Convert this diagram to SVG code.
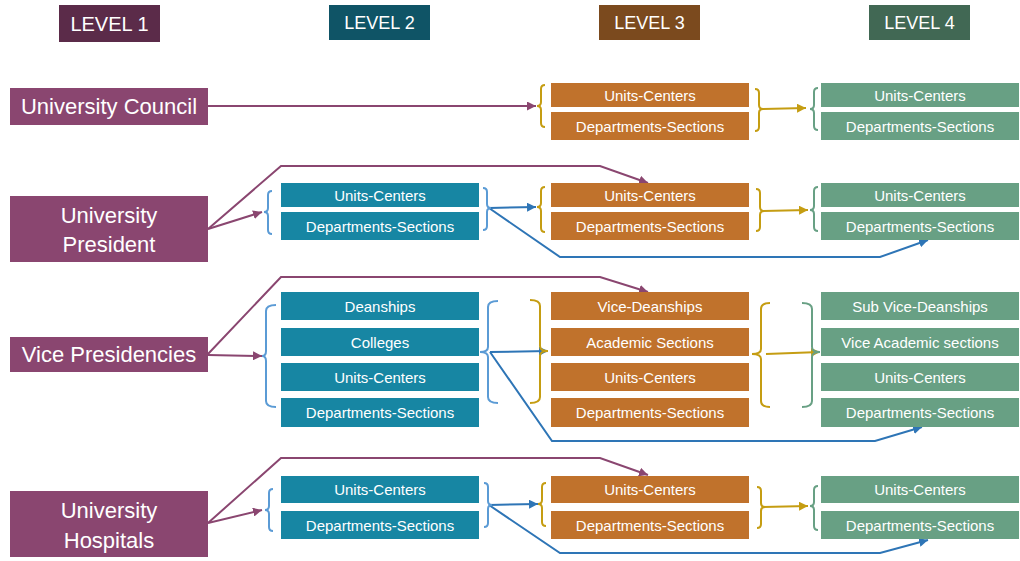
<svg xmlns="http://www.w3.org/2000/svg" width="1020" height="561" viewBox="0 0 1020 561">
<defs>
<style>
.t{font-family:"Liberation Sans",Arial,sans-serif;fill:#fff;text-anchor:middle;dominant-baseline:central}
.s{font-size:15px}
.b{font-size:22px}
.h{font-size:20px}
.n1{fill:#8A4670}
.n2{fill:#1786A3}
.n3{fill:#C0722C}
.n4{fill:#68A084}
.ln{fill:none;stroke-width:2}
.pu{stroke:#8A4670}
.bl{stroke:#2E75B6}
.lb{stroke:#5B9BD5}
.go{stroke:#C59D12}
.gr{stroke:#68A084}
</style>
<marker id="ap" viewBox="0 0 10 10" refX="10" refY="5" markerWidth="4.5" markerHeight="4.5" orient="auto"><path d="M0,0L10,5L0,10z" fill="#8A4670"/></marker>
<marker id="ab" viewBox="0 0 10 10" refX="10" refY="5" markerWidth="4.5" markerHeight="4.5" orient="auto"><path d="M0,0L10,5L0,10z" fill="#2E75B6"/></marker>
<marker id="ag" viewBox="0 0 10 10" refX="10" refY="5" markerWidth="4.5" markerHeight="4.5" orient="auto"><path d="M0,0L10,5L0,10z" fill="#C59D12"/></marker>
</defs>
<rect width="1020" height="561" fill="#fff"/>

<g id="headers">
<rect x="59" y="5" width="101" height="37" fill="#5B2B49"/><text class="t h" x="109.5" y="24">LEVEL 1</text>
<rect x="329" y="5" width="101" height="35" fill="#0F5466"/><text class="t h" x="379.5" y="23" style="font-size:18px">LEVEL 2</text>
<rect x="599" y="5" width="101" height="35" fill="#7B4A1E"/><text class="t h" x="649.5" y="23" style="font-size:18px">LEVEL 3</text>
<rect x="869" y="5" width="101" height="35" fill="#416854"/><text class="t h" x="919.5" y="23" style="font-size:18px">LEVEL 4</text>
</g>

<g id="connectors">
<path class="ln pu" d="M208,106 L536,106" marker-end="url(#ap)"/>
<path class="ln go" d="M763,109 L806,108" marker-end="url(#ag)"/>
<path class="ln pu" d="M208,229 L262,212" marker-end="url(#ap)"/>
<path class="ln pu" d="M208,229 L281,166 L600,166 L648,183" marker-end="url(#ap)"/>
<path class="ln bl" d="M489,208 L536,207" marker-end="url(#ab)"/>
<path class="ln bl" d="M489,208 L560,257 L880,257 L928,240" marker-end="url(#ab)"/>
<path class="ln go" d="M763,211 L808,210" marker-end="url(#ag)"/>
<path class="ln pu" d="M208,355 L262,356" marker-end="url(#ap)"/>
<path class="ln pu" d="M208,354 L281,277 L600,277 L648,292" marker-end="url(#ap)"/>
<path class="ln bl" d="M490,352 L548,351" marker-end="url(#ab)"/>
<path class="ln bl" d="M490,352 L552,441 L875,441 L922,427" marker-end="url(#ab)"/>
<path class="ln go" d="M766,354 L820,352" marker-end="url(#ag)"/>
<path class="ln pu" d="M208,523 L262,510" marker-end="url(#ap)"/>
<path class="ln pu" d="M208,523 L281,458 L600,458 L648,475" marker-end="url(#ap)"/>
<path class="ln bl" d="M489,505 L538,504" marker-end="url(#ab)"/>
<path class="ln bl" d="M489,505 L560,553 L880,553 L928,540" marker-end="url(#ab)"/>
<path class="ln go" d="M763,507 L808,506" marker-end="url(#ag)"/>
</g>

<g id="braces">
<path class="ln go" d="M545,85 Q541,85 541,89 L541,102 Q541,106 537,106 Q541,106 541,110 L541,123 Q541,127 545,127"/>
<path class="ln go" d="M755,89 Q759,89 759,93 L759,105 Q759,109 763,109 Q759,109 759,113 L759,127 Q759,131 755,131"/>
<path class="ln gr" d="M818,88 Q814,88 814,92 L814,105 Q814,109 810,109 Q814,109 814,113 L814,126 Q814,130 818,130"/>
<path class="ln lb" d="M272,191 Q268,191 268,195 L268,208 Q268,212 264,212 Q268,212 268,216 L268,230 Q268,234 272,234"/>
<path class="ln lb" d="M483,188 Q487,188 487,192 L487,204 Q487,208 491,208 Q487,208 487,212 L487,226 Q487,230 483,230"/>
<path class="ln go" d="M545,187 Q541,187 541,191 L541,203 Q541,207 537,207 Q541,207 541,211 L541,228 Q541,232 545,232"/>
<path class="ln go" d="M756,189 Q760,189 760,193 L760,207 Q760,211 764,211 Q760,211 760,215 L760,227 Q760,231 756,231"/>
<path class="ln gr" d="M818,187 Q814,187 814,191 L814,206 Q814,210 810,210 Q814,210 814,214 L814,227 Q814,231 818,231"/>
<path class="ln lb" d="M276,305 Q266,305 266,311 L266,351 Q266,356 262,356 Q266,356 266,361 L266,401 Q266,407 276,407"/>
<path class="ln lb" d="M498,301 Q488,301 488,307 L488,347 Q488,352 480,352 Q488,352 488,357 L488,397 Q488,403 498,403"/>
<path class="ln go" d="M530,300 Q540,300 540,306 L540,346 Q540,351 548,351 Q540,351 540,356 L540,397 Q540,403 530,403"/>
<path class="ln go" d="M770,303 Q761,303 761,309 L761,349 Q761,354 752,354 Q761,354 761,359 L761,401 Q761,407 770,407"/>
<path class="ln gr" d="M802,303 Q812,303 812,309 L812,347 Q812,352 820,352 Q812,352 812,357 L812,401 Q812,407 802,407"/>
<path class="ln lb" d="M273,489 Q269,489 269,493 L269,506 Q269,510 265,510 Q269,510 269,514 L269,527 Q269,531 273,531"/>
<path class="ln lb" d="M484,483 Q488,483 488,487 L488,501 Q488,505 492,505 Q488,505 488,509 L488,523 Q488,527 484,527"/>
<path class="ln go" d="M546,483 Q542,483 542,487 L542,500 Q542,504 538,504 Q542,504 542,508 L542,522 Q542,526 546,526"/>
<path class="ln go" d="M757,487 Q761,487 761,491 L761,503 Q761,507 765,507 Q761,507 761,511 L761,524 Q761,528 757,528"/>
<path class="ln gr" d="M818,486 Q814,486 814,490 L814,502 Q814,506 810,506 Q814,506 814,510 L814,526 Q814,530 818,530"/>
</g>

<g id="university-council"><rect class="n1" x="10" y="88" width="198" height="37"/><text class="t b" x="109" y="106.5">University Council</text></g>
<g id="university-president"><rect class="n1" x="10" y="196" width="198" height="66"/><text class="t b" x="109" y="215">University</text><text class="t b" x="109" y="244">President</text></g>
<g id="vice-presidencies"><rect class="n1" x="10" y="337" width="198" height="35"/><text class="t b" x="109" y="354.5">Vice Presidencies</text></g>
<g id="university-hospitals"><rect class="n1" x="10" y="491" width="198" height="66"/><text class="t b" x="109" y="510">University</text><text class="t b" x="109" y="540">Hospitals</text></g>

<g id="l2-r2-units"><rect class="n2" x="281" y="183" width="198" height="24"/><text class="t s" x="380" y="195">Units-Centers</text></g>
<g id="l2-r2-depts"><rect class="n2" x="281" y="212" width="198" height="28"/><text class="t s" x="380" y="226">Departments-Sections</text></g>
<g id="l2-r3-deanships"><rect class="n2" x="281" y="292" width="198" height="28"/><text class="t s" x="380" y="306">Deanships</text></g>
<g id="l2-r3-colleges"><rect class="n2" x="281" y="328" width="198" height="28"/><text class="t s" x="380" y="342">Colleges</text></g>
<g id="l2-r3-units"><rect class="n2" x="281" y="363" width="198" height="28"/><text class="t s" x="380" y="377">Units-Centers</text></g>
<g id="l2-r3-depts"><rect class="n2" x="281" y="398" width="198" height="29"/><text class="t s" x="380" y="412.5">Departments-Sections</text></g>
<g id="l2-r4-units"><rect class="n2" x="281" y="476" width="198" height="27"/><text class="t s" x="380" y="489.5">Units-Centers</text></g>
<g id="l2-r4-depts"><rect class="n2" x="281" y="511" width="198" height="28"/><text class="t s" x="380" y="525">Departments-Sections</text></g>

<g id="l3-r1-units"><rect class="n3" x="551" y="83" width="198" height="24"/><text class="t s" x="650" y="95">Units-Centers</text></g>
<g id="l3-r1-depts"><rect class="n3" x="551" y="112" width="198" height="28"/><text class="t s" x="650" y="126">Departments-Sections</text></g>
<g id="l3-r2-units"><rect class="n3" x="551" y="183" width="198" height="24"/><text class="t s" x="650" y="195">Units-Centers</text></g>
<g id="l3-r2-depts"><rect class="n3" x="551" y="212" width="198" height="28"/><text class="t s" x="650" y="226">Departments-Sections</text></g>
<g id="l3-r3-vice-deanships"><rect class="n3" x="551" y="292" width="198" height="28"/><text class="t s" x="650" y="306">Vice-Deanships</text></g>
<g id="l3-r3-academic"><rect class="n3" x="551" y="328" width="198" height="28"/><text class="t s" x="650" y="342">Academic Sections</text></g>
<g id="l3-r3-units"><rect class="n3" x="551" y="363" width="198" height="28"/><text class="t s" x="650" y="377">Units-Centers</text></g>
<g id="l3-r3-depts"><rect class="n3" x="551" y="398" width="198" height="29"/><text class="t s" x="650" y="412.5">Departments-Sections</text></g>
<g id="l3-r4-units"><rect class="n3" x="551" y="476" width="198" height="27"/><text class="t s" x="650" y="489.5">Units-Centers</text></g>
<g id="l3-r4-depts"><rect class="n3" x="551" y="511" width="198" height="28"/><text class="t s" x="650" y="525">Departments-Sections</text></g>

<g id="l4-r1-units"><rect class="n4" x="821" y="83" width="198" height="24"/><text class="t s" x="920" y="95">Units-Centers</text></g>
<g id="l4-r1-depts"><rect class="n4" x="821" y="112" width="198" height="28"/><text class="t s" x="920" y="126">Departments-Sections</text></g>
<g id="l4-r2-units"><rect class="n4" x="821" y="183" width="198" height="24"/><text class="t s" x="920" y="195">Units-Centers</text></g>
<g id="l4-r2-depts"><rect class="n4" x="821" y="212" width="198" height="28"/><text class="t s" x="920" y="226">Departments-Sections</text></g>
<g id="l4-r3-sub-vice"><rect class="n4" x="821" y="292" width="198" height="28"/><text class="t s" x="920" y="306">Sub Vice-Deanships</text></g>
<g id="l4-r3-vice-academic"><rect class="n4" x="821" y="328" width="198" height="28"/><text class="t s" x="920" y="342">Vice Academic sections</text></g>
<g id="l4-r3-units"><rect class="n4" x="821" y="363" width="198" height="28"/><text class="t s" x="920" y="377">Units-Centers</text></g>
<g id="l4-r3-depts"><rect class="n4" x="821" y="398" width="198" height="29"/><text class="t s" x="920" y="412.5">Departments-Sections</text></g>
<g id="l4-r4-units"><rect class="n4" x="821" y="476" width="198" height="27"/><text class="t s" x="920" y="489.5">Units-Centers</text></g>
<g id="l4-r4-depts"><rect class="n4" x="821" y="511" width="198" height="28"/><text class="t s" x="920" y="525">Departments-Sections</text></g>
</svg>
